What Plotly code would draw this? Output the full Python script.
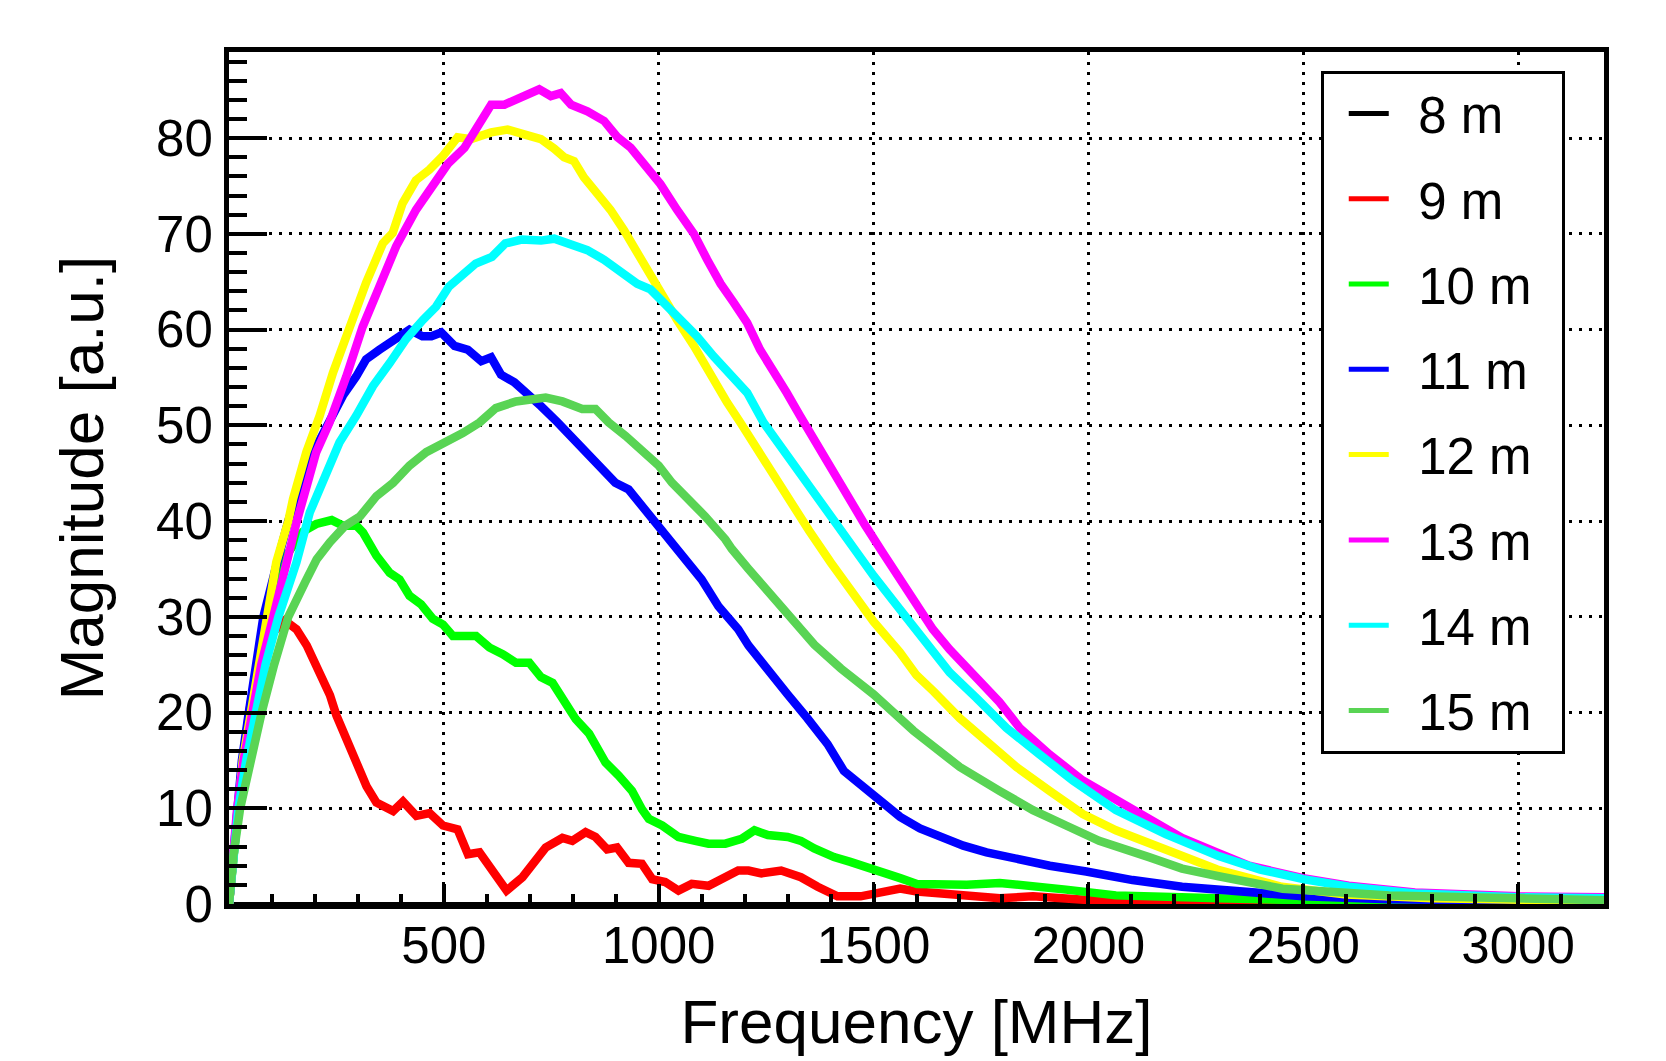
import plotly.graph_objects as go

# ---------------- data ----------------
LABELS = ["8 m", "9 m", "10 m", "11 m", "12 m", "13 m", "14 m", "15 m"]
COLORS = ["#000000", "#ff0000", "#00ff00", "#0000ff", "#ffff00", "#ff00ff", "#00ffff", "#59d454"]

XTICKS = [500, 1000, 1500, 2000, 2500, 3000]
YTICKS = [0, 10, 20, 30, 40, 50, 60, 70, 80]

F_8M = [0, 3200]
V_8M = [0, 0]

F_9M = [0, 10, 20, 32, 47, 60, 80, 105, 130, 157, 181, 208, 235, 250, 270, 300, 320, 343, 382, 405, 436,
        467, 498, 532, 556, 583, 614, 646, 683, 706, 737, 776, 799, 830, 853, 880, 903, 930, 961, 985,
        1015, 1046, 1077, 1116, 1147, 1185, 1209, 1239, 1285, 1331, 1370, 1416, 1470, 1516, 1562, 1601,
        1655, 1717, 1794, 1871, 1948, 2025, 2103, 2300, 2600, 3200]
V_9M = [0, 5, 10, 15, 20, 23.5, 26.5, 28.5, 29.6, 28.7, 27.0, 24.5, 21.8, 19.7, 17.6, 14.8, 12.3, 10.6, 9.7, 10.7, 9.2,
        9.5, 8.2, 7.8, 5.2, 5.4, 3.3, 1.4, 2.8, 4.0, 5.9, 6.9, 6.6, 7.5, 7.0, 5.7, 5.9, 4.3, 4.2, 2.6,
        2.3, 1.4, 2.1, 1.9, 2.6, 3.5, 3.5, 3.2, 3.5, 2.8, 1.8, 0.8, 0.8, 1.3, 1.6, 1.3,
        1.1, 0.8, 0.6, 0.8, 0.6, 0.2, 0.1, 0.05, 0.03, 0.02]

F_10M = [0, 8, 18, 32, 50, 70, 92, 115, 138, 172, 203, 239, 266, 297, 312, 343, 374, 397, 420, 447, 474,
         498, 521, 575, 606, 637, 668, 699, 726, 753, 776, 807, 838, 857, 876, 907, 938, 961, 977, 1008,
         1046, 1085, 1116, 1155, 1193, 1223, 1254, 1300, 1331, 1362, 1408, 1446, 1485, 1516, 1562, 1601,
         1655, 1717, 1794, 1871, 1948, 2064, 2180, 2303, 2500, 2800, 3200]
V_10M = [0, 4, 10, 15, 20, 25, 30, 34, 36.7, 38.9, 39.7, 40.1, 39.5, 39.5, 38.8, 36.4, 34.6, 33.9, 32.2, 31.3, 29.8,
         29.2, 28.0, 28.0, 26.8, 26.1, 25.2, 25.2, 23.7, 23.1, 21.4, 19.3, 17.8, 16.2, 14.8, 13.4, 11.8, 9.9, 8.9, 8.2,
         7.0, 6.6, 6.3, 6.3, 6.8, 7.7, 7.2, 7.0, 6.6, 5.8, 4.9, 4.4, 3.9, 3.4, 2.7, 2.1,
         2.0, 2.0, 2.2, 1.9, 1.5, 0.9, 0.7, 0.6, 0.4, 0.3, 0.2]

F_11M = [0, 8, 17, 30, 46, 62, 80, 108, 138, 180, 226, 265, 296, 319, 350, 389, 420, 450, 471, 494, 525,
         556, 587, 610, 633, 664, 695, 726, 765, 807, 845, 899, 930, 969, 1008, 1062, 1100, 1139, 1185,
         1209, 1254, 1300, 1346, 1393, 1431, 1478, 1516, 1562, 1608, 1655, 1709, 1763, 1833, 1910, 1995,
         2103, 2218, 2303, 2400, 2500, 2700, 2900, 3200]
V_11M = [0, 4, 10, 15, 20, 25, 30, 35, 40, 45.8, 49.9, 53.1, 55.1, 56.9, 57.9, 59.0, 60.0, 59.3, 59.3, 59.7, 58.3,
         57.9, 56.7, 57.1, 55.3, 54.5, 53.1, 52.0, 50.3, 48.4, 46.6, 44.0, 43.3, 41.2, 39.1, 36.0, 33.9, 31.1, 28.7,
         27.0, 24.3, 21.9, 19.4, 16.7, 13.9, 12.2, 10.8, 9.1, 7.9, 7.0, 6.1, 5.4, 4.7, 4.0, 3.4,
         2.5, 1.8, 1.5, 1.1, 0.8, 0.5, 0.35, 0.2]

F_12M = [0, 8, 18, 32, 51, 70, 92, 110, 138, 149, 180, 211, 242, 280, 319, 358, 381, 404, 435, 466, 497,
         532, 563, 610, 648, 687, 726, 757, 780, 803, 826, 857, 888, 919, 950, 981, 1012, 1043, 1082, 1120,
         1159, 1190, 1250, 1300, 1350, 1400, 1450, 1500, 1561, 1600, 1640, 1701, 1763, 1833, 1910, 1987,
         2064, 2180, 2300, 2450, 2600, 2800, 3000, 3200]
V_12M = [0, 4, 10, 15, 20, 25, 30, 35.7, 40, 42.3, 47.2, 51.0, 55.5, 60.3, 64.9, 69.0, 70.1, 73.2, 75.6, 76.7, 78.1,
         80.1, 79.9, 80.6, 80.9, 80.4, 79.9, 78.9, 78.0, 77.6, 75.9, 74.2, 72.5, 70.4, 68.0, 65.5, 63.5, 61.0, 58.3, 55.2,
         52.4, 50.3, 46.0, 42.5, 39.0, 35.7, 32.6, 29.5, 26.3, 23.9, 22.2, 19.4, 17.0, 14.3, 11.8, 9.4,
         7.7, 5.6, 3.6, 1.8, 1.0, 0.6, 0.4, 0.3]

F_13M = [0, 8, 19, 34, 53, 75, 103, 131, 158, 203, 234, 273, 311, 350, 389, 435, 471, 509, 548, 579, 610,
         641, 672, 703, 722, 749, 772, 796, 834, 873, 904, 935, 966, 1004, 1043, 1082, 1113, 1144, 1175,
         1206, 1236, 1267, 1298, 1329, 1380, 1430, 1480, 1520, 1561, 1600, 1638, 1677, 1715, 1754, 1793,
         1840, 1910, 1987, 2103, 2218, 2303, 2374, 2500, 2606, 2760, 3000, 3200]
V_13M = [0, 4, 10, 15, 20, 25, 30, 35.3, 40, 47.2, 50.3, 55.1, 60.3, 64.5, 68.7, 72.5, 74.9, 77.3, 79.0, 81.1, 83.5,
         83.5, 84.2, 84.7, 85.1, 84.4, 84.7, 83.5, 82.8, 81.8, 80.1, 79.0, 77.3, 75.2, 72.5, 70.0, 67.3, 64.8, 62.8,
         60.7, 57.9, 55.8, 53.4, 51.0, 47.0, 43.2, 39.6, 36.8, 33.9, 31.1, 28.7, 26.6, 24.9, 23.1, 21.1,
         18.4, 15.6, 12.9, 9.8, 6.9, 5.3, 4.0, 2.7, 1.9, 1.2, 0.8, 0.7]

F_14M = [0, 8, 22, 40, 61, 85, 115, 157, 188, 219, 257, 296, 335, 374, 412, 451, 482, 512, 543, 574, 612,
         643, 681, 726, 757, 796, 834, 873, 912, 950, 981, 1012, 1051, 1089, 1128, 1167, 1206, 1244, 1300,
         1350, 1400, 1450, 1500, 1561, 1600, 1638, 1677, 1740, 1809, 1887, 1964, 2064, 2180, 2303, 2400,
         2500, 2606, 2760, 3000, 3200]
V_14M = [0, 3.5, 10, 15, 20, 25, 30, 35.7, 40.9, 44.4, 48.2, 51.0, 54.1, 56.5, 59.0, 61.0, 62.4, 64.5, 65.6, 66.9, 67.6,
         69.0, 69.4, 69.3, 69.5, 69.0, 68.3, 67.3, 66.1, 64.8, 64.2, 62.8, 61.0, 59.3, 57.2, 55.2, 53.4, 50.3, 46.8,
         43.6, 40.4, 37.2, 34.3, 30.8, 28.5, 26.3, 24.2, 21.5, 18.4, 15.6, 12.9, 9.8, 7.3, 5.0, 3.6,
         2.6, 1.8, 1.1, 0.7, 0.6]

F_15M = [0, 10, 26, 50, 76, 105, 138, 177, 204, 235, 270, 305, 343, 382, 420, 459, 505, 544, 583, 621, 668,
         737, 776, 822, 853, 884, 923, 969, 1000, 1031, 1070, 1108, 1155, 1170, 1209, 1250, 1300, 1362, 1424,
         1500, 1593, 1701, 1794, 1871, 1948, 2025, 2141, 2218, 2303, 2452, 2700, 3000, 3200]
V_15M = [0, 5, 10, 15, 20, 25, 30, 33.6, 36, 37.8, 39.5, 40.5, 42.6, 44.0, 45.8, 47.2, 48.2, 49.2, 50.3, 51.8, 52.5,
         52.9, 52.5, 51.7, 51.7, 50.3, 48.9, 47.1, 45.8, 44.0, 42.3, 40.5, 38.1, 37.1, 35.0, 32.8, 30.3, 27.1, 24.6,
         21.9, 18.1, 14.3, 11.8, 9.8, 8.2, 6.6, 4.9, 3.7, 2.9, 1.6, 0.9, 0.5, 0.4]

SERIES_F = [F_8M, F_9M, F_10M, F_11M, F_12M, F_13M, F_14M, F_15M]
SERIES_V = [V_8M, V_9M, V_10M, V_11M, V_12M, V_13M, V_14M, V_15M]

# ---------------- figure ----------------
FONT = "Liberation Sans, Arial, Helvetica, sans-serif"
LEAD = "\u00a0\u2009"    # small gap between legend line and label
TRAIL = "\u00a0\u2009"   # right padding inside legend box

fig = go.Figure()
# data curves (the 8 m curve lies on the baseline, hidden under the axis frame)
for name, color, fx, vy in zip(LABELS, COLORS, SERIES_F, SERIES_V):
    width = 4 if name == "8 m" else 8.5
    fig.add_trace(go.Scatter(x=fx, y=vy, mode="lines", name=name, legendgroup=name,
                             showlegend=False, line=dict(color=color, width=width)))
# legend entries with the thinner sample lines of the reference
for name, color in zip(LABELS, COLORS):
    fig.add_trace(go.Scatter(x=[None], y=[None], mode="lines", name=LEAD + name + TRAIL,
                             legendgroup=name, showlegend=True,
                             line=dict(color=color, width=5), hoverinfo="skip"))

axis_common = dict(
    showline=True, linewidth=5, linecolor="black", mirror=True,
    ticks="inside", tickwidth=4, tickcolor="black",
    showgrid=True, gridcolor="black", gridwidth=2.5, griddash="3px,7px",
    zeroline=False, automargin=False,
    tickfont=dict(size=51, color="black", family=FONT),
)

fig.update_layout(
    width=1666, height=1061,
    margin=dict(l=221, r=70, t=44, b=165),
    plot_bgcolor="white", paper_bgcolor="white",
    font=dict(family=FONT, color="black"),
    showlegend=True,
    legend=dict(
        x=0.794, y=0.978, xanchor="left", yanchor="top",
        bgcolor="white", bordercolor="black", borderwidth=3,
        font=dict(size=51, family=FONT, color="black"),
        itemwidth=40, tracegroupgap=16, indentation=20,
    ),
    xaxis=dict(
        range=[0, 3200], tickmode="array", tickvals=XTICKS,
        ticktext=[str(t) for t in XTICKS], ticklen=20,
        ticklabelstandoff=-7,
        minor=dict(ticks="inside", ticklen=10, tickwidth=4, tickcolor="black",
                   tickmode="linear", tick0=0, dtick=100, showgrid=False),
        title=dict(text="Frequency [MHz]", font=dict(size=62, family=FONT, color="black"), standoff=28),
        **axis_common,
    ),
    yaxis=dict(
        range=[0, 89], tickmode="array", tickvals=YTICKS,
        ticktext=[str(t) for t in YTICKS], ticklen=38,
        ticklabelstandoff=1,
        minor=dict(ticks="inside", ticklen=18, tickwidth=4, tickcolor="black",
                   tickmode="linear", tick0=0, dtick=2, showgrid=False),
        title=dict(text="Magnitude [a.u.]", font=dict(size=62, family=FONT, color="black"), standoff=34),
        **axis_common,
    ),
)

fig.write_html("out.html")
